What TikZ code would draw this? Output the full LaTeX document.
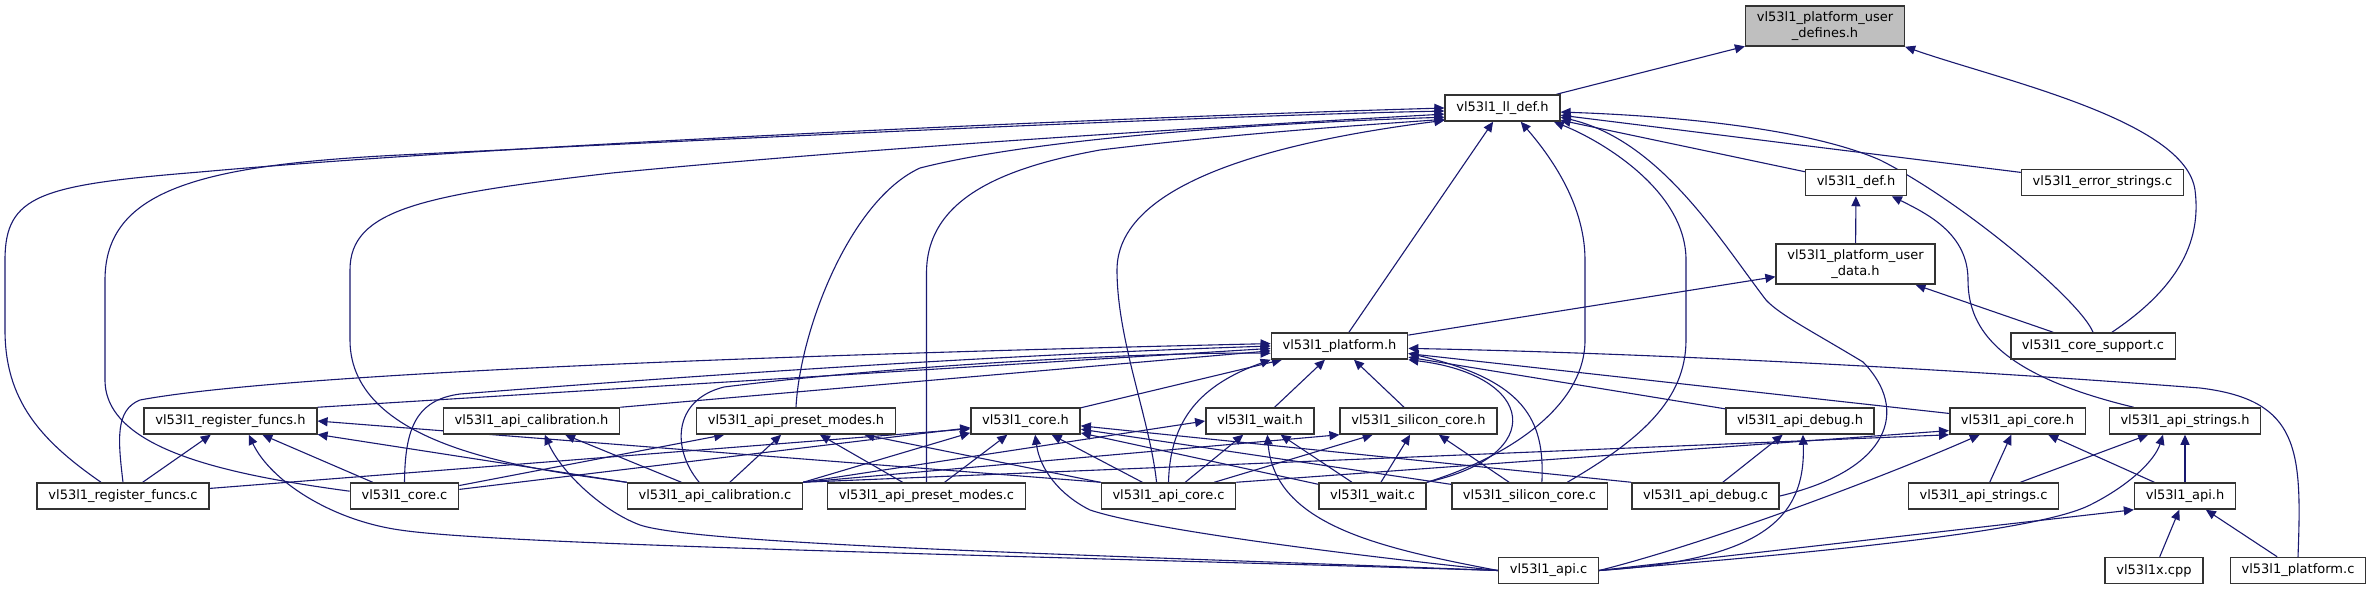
\documentclass[tikz,border=0pt]{standalone}
\usepackage{fontspec}
\setmainfont{DejaVu Sans}
\usetikzlibrary{arrows.meta}
\definecolor{edgeblue}{RGB}{25,25,112}
\definecolor{hlgray}{RGB}{191,191,191}
\pgfdeclarelayer{bg}
\pgfsetlayers{bg,main}
\tikzset{
  file/.style={draw=black!80, line width=0.75pt, fill=white, inner xsep=5.6pt, inner ysep=0pt, minimum height=13pt, font=\fontsize{6.5}{7.6}\selectfont},
  twoline/.style={file, align=center, minimum height=20pt},
  cur/.style={twoline, fill=hlgray},
  dep/.style={draw=edgeblue, line width=0.55pt, -{Triangle[length=5pt,width=4.5pt]}},
}
\begin{document}
\begin{tikzpicture}[x=0.5pt,y=-0.5pt]
\useasboundingbox (0,0) rectangle (2372,589);
% nodes
\node[cur] (udef) at (1825,26) {vl53l1\_platform\_user\\\_defines.h};
\node[file] (lldef) at (1502.5,108) {vl53l1\_ll\_def.h};
\node[file] (def) at (1856,182.5) {vl53l1\_def.h};
\node[file] (err) at (2102.5,182.5) {vl53l1\_error\_strings.c};
\node[twoline] (udata) at (1855.5,264) {vl53l1\_platform\_user\\\_data.h};
\node[file] (plat) at (1339.5,346) {vl53l1\_platform.h};
\node[file] (supp) at (2093,346) {vl53l1\_core\_support.c};
\node[file] (regh) at (230.5,421) {vl53l1\_register\_funcs.h};
\node[file] (calh) at (531.5,421) {vl53l1\_api\_calibration.h};
\node[file] (preh) at (796,421) {vl53l1\_api\_preset\_modes.h};
\node[file] (coreh) at (1025.5,421) {vl53l1\_core.h};
\node[file] (waith) at (1260,421) {vl53l1\_wait.h};
\node[file] (silh) at (1418.5,421) {vl53l1\_silicon\_core.h};
\node[file] (dbgh) at (1800,421) {vl53l1\_api\_debug.h};
\node[file] (acoreh) at (2017.5,421) {vl53l1\_api\_core.h};
\node[file] (strh) at (2185,421) {vl53l1\_api\_strings.h};
\node[file] (regc) at (123,496) {vl53l1\_register\_funcs.c};
\node[file] (corec) at (404.5,496) {vl53l1\_core.c};
\node[file] (calc) at (715,496) {vl53l1\_api\_calibration.c};
\node[file] (prec) at (926.5,496) {vl53l1\_api\_preset\_modes.c};
\node[file] (acorec) at (1168.5,496) {vl53l1\_api\_core.c};
\node[file] (waitc) at (1372.5,496) {vl53l1\_wait.c};
\node[file] (silc) at (1529.5,496) {vl53l1\_silicon\_core.c};
\node[file] (dbgc) at (1705.5,496) {vl53l1\_api\_debug.c};
\node[file] (strc) at (1983.5,496) {vl53l1\_api\_strings.c};
\node[file] (apih) at (2185,496) {vl53l1\_api.h};
\node[file] (apic) at (1548.5,570.5) {vl53l1\_api.c};
\node[file] (cpp) at (2154,570.5) {vl53l1x.cpp};
\node[file] (platc) at (2298,570.5) {vl53l1\_platform.c};
\begin{pgfonlayer}{bg}
\fill[white] (0,0) rectangle (2372,589);
% includes of vl53l1_platform_user_defines.h
\draw[dep] (lldef) -- (udef);
\draw[dep] (supp.36) .. controls (2190,280) and (2200,230) .. (2195,190) .. controls (2185,120) and (2000,80) .. (udef.south east);
% includes of vl53l1_ll_def.h
\draw[dep] (def) -- (lldef);
\draw[dep] (err) -- (lldef);
\draw[dep] (supp.north) .. controls (2080,300) and (1960,200) .. (1880,160) .. controls (1800,125) and (1650,115) .. (lldef.-4);
\draw[dep] (plat) -- (lldef);
\draw[dep] (regc.148) .. controls (40,440) and (5,400) .. (5,330) -- (5,260) .. controls (5,195) and (40,185) .. (200,172) .. controls (500,145) and (1100,118) .. (lldef.180);
\draw[dep] (corec.175) .. controls (230,475) and (105,450) .. (105,380) -- (105,280) .. controls (105,190) and (200,165) .. (400,155) .. controls (700,140) and (1200,116) .. (lldef.183);
\draw[dep] (calc.north west) .. controls (540,470) and (350,450) .. (350,340) -- (350,270) .. controls (350,210) and (420,195) .. (612,173) .. controls (900,145) and (1250,125) .. (lldef.186);
\draw[dep] (preh.north) .. controls (800,330) and (850,200) .. (920,168) .. controls (1050,135) and (1300,122) .. (lldef.189);
\draw[dep] (prec.north) -- (926.5,273) .. controls (926.5,200) and (1000,168) .. (1100,150) .. controls (1250,132) and (1380,124) .. (lldef.191);
\draw[dep] (acorec.131) .. controls (1150,420) and (1117,340) .. (1117,270) .. controls (1117,190) and (1250,145) .. (lldef.192);
\draw[dep] (waitc.north east) .. controls (1500,460) and (1585,410) .. (1585,340) -- (1585,260) .. controls (1585,200) and (1545,150) .. (lldef.-37);
\draw[dep] (silc.20) .. controls (1640,440) and (1686,400) .. (1686,340) -- (1686,260) .. controls (1686,190) and (1600,140) .. (lldef.-15);
\draw[dep] (dbgc.east) .. controls (1890,470) and (1910,410) .. (1863,362) .. controls (1810,330) and (1780,315) .. (1766,300) .. controls (1720,240) and (1660,140) .. (lldef.-9);
% includes of vl53l1_def.h and vl53l1_platform_user_data.h
\draw[dep] (udata) -- (def);
\draw[dep] (strh.165) .. controls (2000,375) and (1968,330) .. (1968,280) .. controls (1968,235) and (1930,215) .. (def.-21);
\draw[dep] (plat) -- (udata);
\draw[dep] (supp) -- (udata);
% includes of vl53l1_platform.h
\draw[dep] (regc.north) .. controls (118,440) and (115,410) .. (140,400) .. controls (300,370) and (900,352) .. (plat.178);
\draw[dep] (corec.north) .. controls (405,430) and (415,400) .. (460,394) .. controls (700,375) and (1000,355) .. (plat.180);
\draw[dep] (regh.north east) -- (plat.182);
\draw[dep] (calh.north east) -- (plat.184);
\draw[dep] (calc.139) .. controls (672,450) and (672,400) .. (724,387) .. controls (900,365) and (1150,352) .. (plat.186);
\draw[dep] (coreh) -- (plat);
\draw[dep] (acorec.north) .. controls (1170,420) and (1200,385) .. (plat.south west);
\draw[dep] (waith) -- (plat);
\draw[dep] (silh) -- (plat);
\draw[dep] (waitc.north east) .. controls (1550,455) and (1535,375) .. (plat.south east);
\draw[dep] (silc.48) .. controls (1545,420) and (1525,380) .. (plat.-6);
\draw[dep] (dbgh) -- (plat);
\draw[dep] (acoreh) -- (plat);
\draw[dep] (platc.north) .. controls (2302,450) and (2300,400) .. (2200,388) .. controls (1900,365) and (1600,352) .. (plat.-2);
% includes of vl53l1_core.h
\draw[dep] (regc.5) -- (coreh.-172);
\draw[dep] (corec) -- (coreh);
\draw[dep] (calc.north east) -- (coreh.-168);
\draw[dep] (prec) -- (coreh);
\draw[dep] (acorec) -- (coreh);
\draw[dep] (waitc) -- (coreh);
\draw[dep] (silc) -- (coreh);
\draw[dep] (dbgc.north west) -- (coreh.-5);
\draw[dep] (apic.west) .. controls (1350,555) and (1150,530) .. (1090,510) .. controls (1060,495) and (1040,470) .. (coreh.-55);
% includes of vl53l1_register_funcs.h
\draw[dep] (regc) -- (regh);
\draw[dep] (corec) -- (regh);
\draw[dep] (calc) -- (regh);
\draw[dep] (acorec.north west) -- (regh.east);
\draw[dep] (apic.west) .. controls (1000,555) and (500,545) .. (400,530) .. controls (330,520) and (270,480) .. (regh.-37);
% includes of vl53l1_api_calibration.h
\draw[dep] (calc) -- (calh);
\draw[dep] (apic.west) .. controls (1100,555) and (700,545) .. (640,525) .. controls (600,510) and (560,470) .. (calh.-46);
% includes of vl53l1_api_preset_modes.h
\draw[dep] (corec) -- (preh);
\draw[dep] (calc) -- (preh);
\draw[dep] (prec) -- (preh);
\draw[dep] (acorec) -- (preh);
% includes of vl53l1_wait.h
\draw[dep] (calc.north east) -- (waith.west);
\draw[dep] (acorec) -- (waith);
\draw[dep] (waitc) -- (waith);
\draw[dep] (apic.west) .. controls (1380,548) and (1275,525) .. (waith.-62);
% includes of vl53l1_silicon_core.h
\draw[dep] (calc.north east) -- (silh.south west);
\draw[dep] (acorec) -- (silh);
\draw[dep] (waitc) -- (silh);
\draw[dep] (silc) -- (silh);
% includes of vl53l1_api_debug.h
\draw[dep] (dbgc) -- (dbgh);
\draw[dep] (apic.east) .. controls (1760,560) and (1806,520) .. (dbgh.-78);
% includes of vl53l1_api_core.h
\draw[dep] (calc.north east) -- (acoreh.south west);
\draw[dep] (acorec.north east) -- (acoreh.-172);
\draw[dep] (apic.east) .. controls (1720,540) and (1900,470) .. (acoreh.-160);
\draw[dep] (strc) -- (acoreh);
\draw[dep] (apih) -- (acoreh);
% includes of vl53l1_api_strings.h
\draw[dep] (strc) -- (strh);
\draw[dep] (apih) -- (strh);
\draw[dep] (apic.east) .. controls (1850,550) and (2040,530) .. (2090,505) .. controls (2130,485) and (2155,460) .. (strh.-148);
% includes of vl53l1_api.h
\draw[dep] (apic.east) -- (apih.south west);
\draw[dep] (cpp) -- (apih);
\draw[dep] (platc) -- (apih);
\end{pgfonlayer}
\end{tikzpicture}
\end{document}
